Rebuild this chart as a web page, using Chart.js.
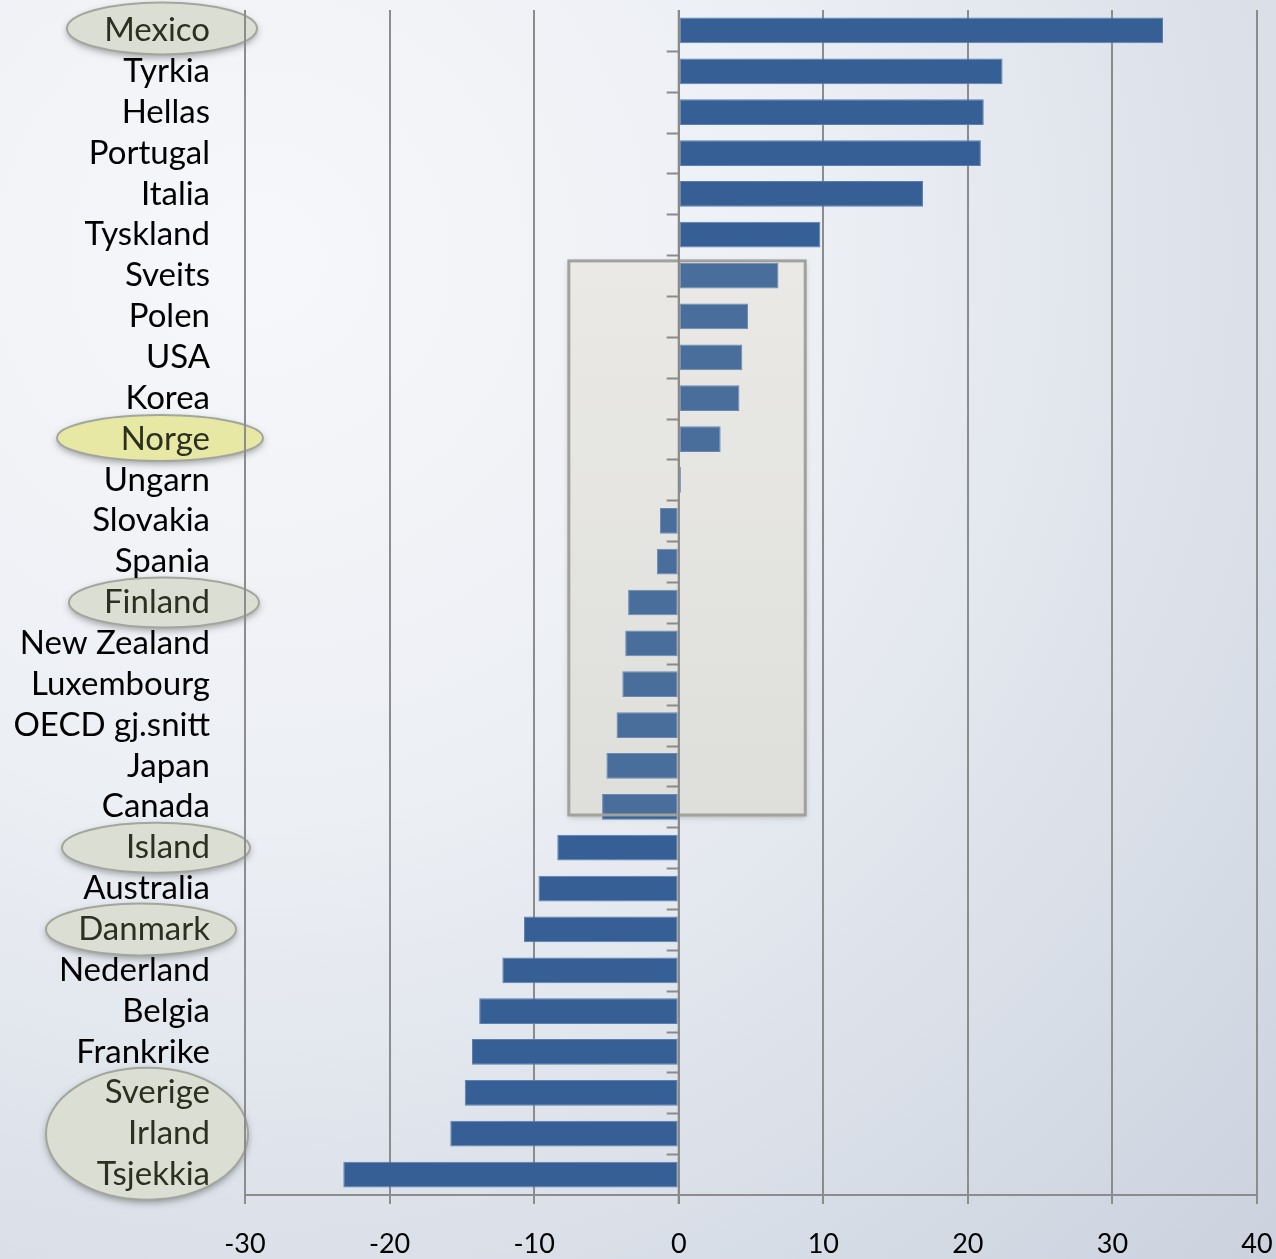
<!DOCTYPE html>
<html>
<head>
<meta charset="utf-8">
<script src="https://cdn.jsdelivr.net/npm/chart.js@4.4.1/dist/chart.umd.min.js"></script>
<style>
  html, body { margin: 0; padding: 0; background: #fff; }
  #wrap { width: 1276px; height: 1259px; }
</style>
</head>
<body>
<div id="wrap"><canvas id="chart" width="1276" height="1259"></canvas></div>
<script>
const countries = ['Mexico', 'Tyrkia', 'Hellas', 'Portugal', 'Italia', 'Tyskland', 'Sveits', 'Polen', 'USA',
  'Korea', 'Norge', 'Ungarn', 'Slovakia', 'Spania', 'Finland', 'New Zealand', 'Luxembourg', 'OECD gj.snitt',
  'Japan', 'Canada', 'Island', 'Australia', 'Danmark', 'Nederland', 'Belgia', 'Frankrike', 'Sverige', 'Irland', 'Tsjekkia'];
const values = [33.5, 22.4, 21.1, 20.9, 16.9, 9.8, 6.9, 4.8, 4.4, 4.2, 2.9, 0.15, -1.3, -1.5, -3.5, -3.7, -3.9,
  -4.3, -5.0, -5.3, -8.4, -9.7, -10.7, -12.2, -13.8, -14.3, -14.8, -15.8, -23.2];
const xTicks = [-30, -20, -10, 0, 10, 20, 30, 40];

// highlighted labels (ellipses), yellow one for Norge
const highlighted = ['Mexico', 'Norge', 'Finland', 'Island', 'Danmark', 'Sverige', 'Irland', 'Tsjekkia'];

const ctx = document.getElementById('chart').getContext('2d');

const backdrop = {
  id: 'backdrop',
  beforeDraw(chart) {
    const c = chart.ctx;
    const w = chart.width, h = chart.height;
    const g = c.createRadialGradient(260, 260, 20, 260, 260, 1550);
    g.addColorStop(0, '#f6f7fa');
    g.addColorStop(0.35, '#eceff4');
    g.addColorStop(1, '#c6cedb');
    c.save();
    c.fillStyle = g;
    c.fillRect(0, 0, w, h);

    // ellipses round some country names
    const y = chart.scales.y;
    const ell = (cx, cy, rx, ry, fill) => {
      c.save();
      c.shadowColor = 'rgba(0,0,0,0.35)';
      c.shadowBlur = 7;
      c.shadowOffsetY = 3;
      c.beginPath();
      c.ellipse(cx, cy, rx, ry, 0, 0, Math.PI * 2);
      c.fillStyle = fill;
      c.fill();
      c.restore();
      c.save();
      c.beginPath();
      c.ellipse(cx, cy, rx, ry, 0, 0, Math.PI * 2);
      c.lineWidth = 2;
      c.strokeStyle = '#a3a69d';
      c.stroke();
      c.restore();
    };
    const grey = '#dbdfd3';
    ell(162, y.getPixelForValue(0) - 2, 95, 26, grey);
    ell(160, y.getPixelForValue(10) - 1, 103, 23, '#e6e8a4');
    ell(164, y.getPixelForValue(14), 95, 25, grey);
    ell(156, y.getPixelForValue(20), 94, 25, grey);
    ell(141, y.getPixelForValue(22), 95, 26, grey);
    ell(147, y.getPixelForValue(27), 101, 66, grey);

    // box behind bars
    const x = chart.scales.x;
    const bx0 = x.getPixelForValue(-7.6), bx1 = x.getPixelForValue(8.75);
    const by0 = y.getPixelForValue(5.64), by1 = y.getPixelForValue(19.2);
    c.save();
    c.shadowColor = 'rgba(0,0,0,0.25)';
    c.shadowBlur = 6;
    c.shadowOffsetY = 2;
    const bg = c.createLinearGradient(0, by0, 0, by1);
    bg.addColorStop(0, '#ecebe8');
    bg.addColorStop(1, '#dfdfdc');
    c.fillStyle = bg;
    c.fillRect(bx0, by0, bx1 - bx0, by1 - by0);
    c.restore();
    c.restore();
  },
  afterDatasetsDraw(chart) {
    const c = chart.ctx;
    const x = chart.scales.x, y = chart.scales.y;
    const x0 = x.getPixelForValue(0);
    c.save();
    // light veil of the box over the bars
    const bx0 = x.getPixelForValue(-7.6), bx1 = x.getPixelForValue(8.75);
    const by0 = y.getPixelForValue(5.64), by1 = y.getPixelForValue(19.2);
    c.fillStyle = 'rgba(225,222,212,0.12)';
    c.fillRect(bx0, by0, bx1 - bx0, by1 - by0);
    c.lineWidth = 3;
    c.strokeStyle = '#a2a29c';
    c.strokeRect(bx0, by0, bx1 - bx0, by1 - by0);

    // zero line with small ticks between categories
    c.strokeStyle = '#8a8a8a';
    c.lineWidth = 2;
    c.beginPath();
    c.moveTo(x0, chart.chartArea.top);
    c.lineTo(x0, chart.chartArea.bottom + 9);
    for (let i = 1; i < countries.length; i++) {
      const ty = Math.round(y.getPixelForValue(i - 0.5)) + 0.5;
      c.moveTo(x0 - 12, ty);
      c.lineTo(x0, ty);
    }
    c.stroke();
    c.restore();
  }
};

const chart = new Chart(ctx, {
  type: 'bar',
  data: {
    labels: countries,
    datasets: [{
      data: values,
      backgroundColor: '#355f95',
      borderColor: '#5a7fb0',
      borderWidth: 1,
      borderSkipped: false,
      barPercentage: 0.63,
      categoryPercentage: 1
    }]
  },
  options: {
    indexAxis: 'y',
    responsive: false,
    animation: false,
    layout: { padding: { top: 10, right: 19, left: 0, bottom: 0 } },
    plugins: {
      legend: { display: false },
      tooltip: { enabled: false }
    },
    scales: {
      x: {
        min: -30,
        max: 40,
        afterBuildTicks(scale) {
          scale.ticks = xTicks.map(v => ({ value: v }));
        },
        afterFit(scale) {
          scale.height = 64;
          scale.paddingLeft = 0;
          scale.paddingRight = 0;
        },
        grid: { color: '#8c8c8c', lineWidth: 2, tickLength: 9, tickColor: '#8c8c8c' },
        border: { display: true, color: '#8c8c8c', width: 2 },
        ticks: {
          color: '#000',
          padding: 24,
          maxRotation: 0,
          font: { family: 'Lato', size: 27 }
        }
      },
      y: {
        afterFit(scale) {
          scale.width = 245;
          scale.paddingTop = 0;
          scale.paddingBottom = 0;
        },
        grid: { display: false, drawTicks: false },
        border: { display: false },
        ticks: {
          autoSkip: false,
          padding: 35,
          font: { family: 'Lato', size: 33 },
          color: (c) => highlighted.includes(countries[c.index]) ? '#2c3020' : '#000'
        }
      }
    }
  },
  plugins: [backdrop]
});
</script>
</body>
</html>
